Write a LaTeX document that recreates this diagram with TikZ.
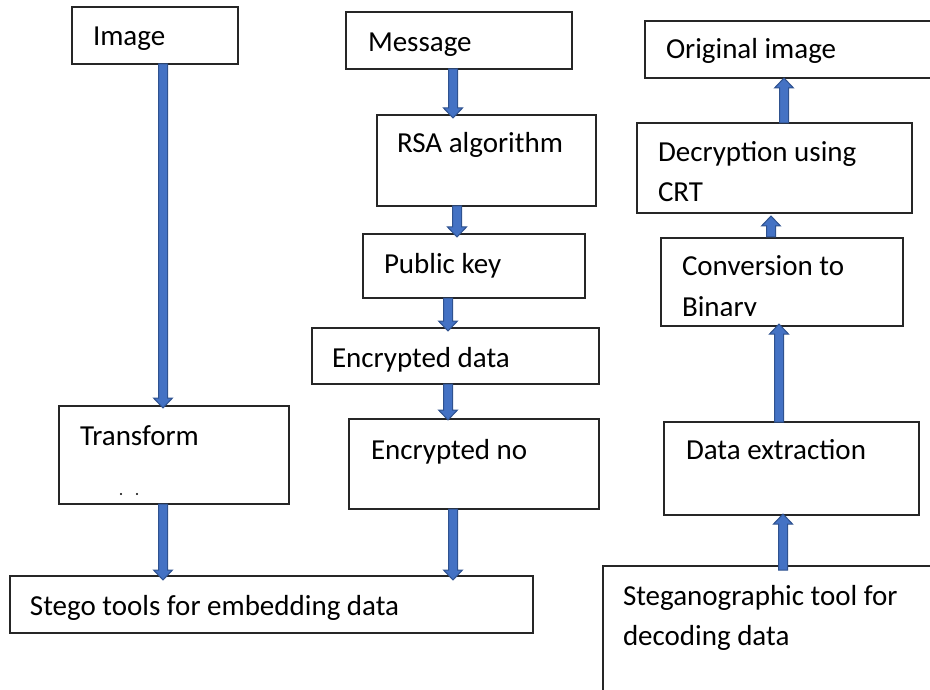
\documentclass[tikz,border=0pt]{standalone}
\usepackage{fontspec}
\setmainfont{Carlito}
\usetikzlibrary{calc}
\definecolor{arrfill}{HTML}{4472C4}
\definecolor{arrline}{HTML}{2F528F}
\begin{document}
\begin{tikzpicture}[x=1pt,y=-1pt,
  box/.style={draw=black!85, line width=1.2pt, inner sep=0pt, outer sep=0pt, anchor=north west},
  txt/.style={inner sep=0pt, outer sep=0pt, anchor=base west, font=\fontsize{29}{35}\selectfont},
  blkdown/.style={fill=arrfill, draw=arrline, line width=1pt, line join=miter,
    to path={let \p1=(\tikztostart), \p2=(\tikztotarget) in
      (\x1-4.5pt,\y1) -- (\x1+4.5pt,\y1) -- (\x1+4.5pt,\y2+10pt) -- (\x1+9.5pt,\y2+10pt)
      -- (\x1,\y2) -- (\x1-9.5pt,\y2+10pt) -- (\x1-4.5pt,\y2+10pt) -- cycle}},
  blkup/.style={fill=arrfill, draw=arrline, line width=1pt, line join=miter,
    to path={let \p1=(\tikztostart), \p2=(\tikztotarget) in
      (\x1-4.5pt,\y1) -- (\x1+4.5pt,\y1) -- (\x1+4.5pt,\y2-10pt) -- (\x1+9.5pt,\y2-10pt)
      -- (\x1,\y2) -- (\x1-9.5pt,\y2-10pt) -- (\x1-4.5pt,\y2-10pt) -- cycle}}]
\useasboundingbox (0,0) rectangle (930,690);
\clip (0,0) rectangle (930,690);

% left column boxes
\node[box, minimum width=166pt, minimum height=57pt] (img) at (72,7) {};
\node[box, minimum width=230pt, minimum height=98pt] (trans) at (59,406) {};
\node[box, minimum width=523pt, minimum height=57pt] (stego) at (10,576) {};
% middle column boxes
\node[box, minimum width=226pt, minimum height=57pt] (msg) at (346,12) {};
\node[box, minimum width=219pt, minimum height=91pt] (rsa) at (377,115) {};
\node[box, minimum width=222pt, minimum height=64pt] (pub) at (363,234) {};
\node[box, minimum width=287pt, minimum height=56pt] (encd) at (312,328) {};
\node[box, minimum width=250pt, minimum height=90pt] (encno) at (349,419) {};
% right column boxes
\node[box, minimum width=315pt, minimum height=57pt] (orig) at (645,21) {};
\node[box, minimum width=275pt, minimum height=90pt] (decr) at (637,123) {};
\node[box, minimum width=242pt, minimum height=88pt] (conv) at (661,238) {};
\node[box, minimum width=255pt, minimum height=93pt] (dext) at (664,422) {};
\node[box, minimum width=357pt, minimum height=154pt] (steg) at (603,566) {};

% texts
\node[txt] (timg) at (93,46) {Image};
\node[txt] (ttrans) at (80,445) {Transform};
\fill[black] (121,494) circle (1.1pt) (137,494) circle (1.1pt);
\node[txt] (tstego) at (30,615) {Stego tools for embedding data};
\node[txt] (tmsg) at (368,52) {Message};
\node[txt] (trsa) at (397,153) {RSA algorithm};
\node[txt] (tpub) at (384,273) {Public key};
\node[txt] (tencd) at (332,367) {Encrypted data};
\node[txt] (tencno) at (371,459) {Encrypted no};
\node[txt] (torig) at (666,59) {Original image};
\node[txt] (tdecr1) at (658,162) {Decryption using};
\node[txt] (tdecr2) at (658,202) {CRT};
\node[txt] (tconv1) at (682,276) {Conversion to};
\begin{scope}
  \clip (661,238) rectangle (903,315);
  \node[txt] (tconv2) at (682,316) {Binary};
\end{scope}
\node[txt] (tdext) at (686,459) {Data extraction};
\node[txt] (tsteg1) at (623,605) {Steganographic tool for};
\node[txt] (tsteg2) at (623,645) {decoding data};

% arrows down
\draw[blkdown] ([xshift=8pt]img.south) to ([yshift=-2pt]trans.north);
\draw[blkdown] ([xshift=-11pt]trans.south) to ([yshift=-4pt]stego.north);
\draw[blkdown] ([xshift=-6pt]msg.south) to ([yshift=-3pt]rsa.north);
\draw[blkdown] ([xshift=-29.5pt]rsa.south) to ([yshift=-3pt]pub.north);
\draw[blkdown] ([xshift=-26pt]pub.south) to ([yshift=-3pt]encd.north);
\draw[blkdown] ([xshift=-7.5pt]encd.south) to ([yshift=-1pt]encno.north);
\draw[blkdown] ([xshift=-21pt]encno.south) to ([yshift=-4pt]stego.north);
% arrows up
\draw[blkup] ([xshift=9.5pt]decr.north) to (orig.south);
\draw[blkup] ([xshift=-11pt,yshift=1pt]conv.north) to ([yshift=-3pt]decr.south);
\draw[blkup] ([xshift=-12.5pt]dext.north) to ([yshift=2pt]conv.south);
\draw[blkup] ([xshift=180pt,yshift=-4pt]steg.north west) to ([yshift=1pt]dext.south);
\end{tikzpicture}
\end{document}
